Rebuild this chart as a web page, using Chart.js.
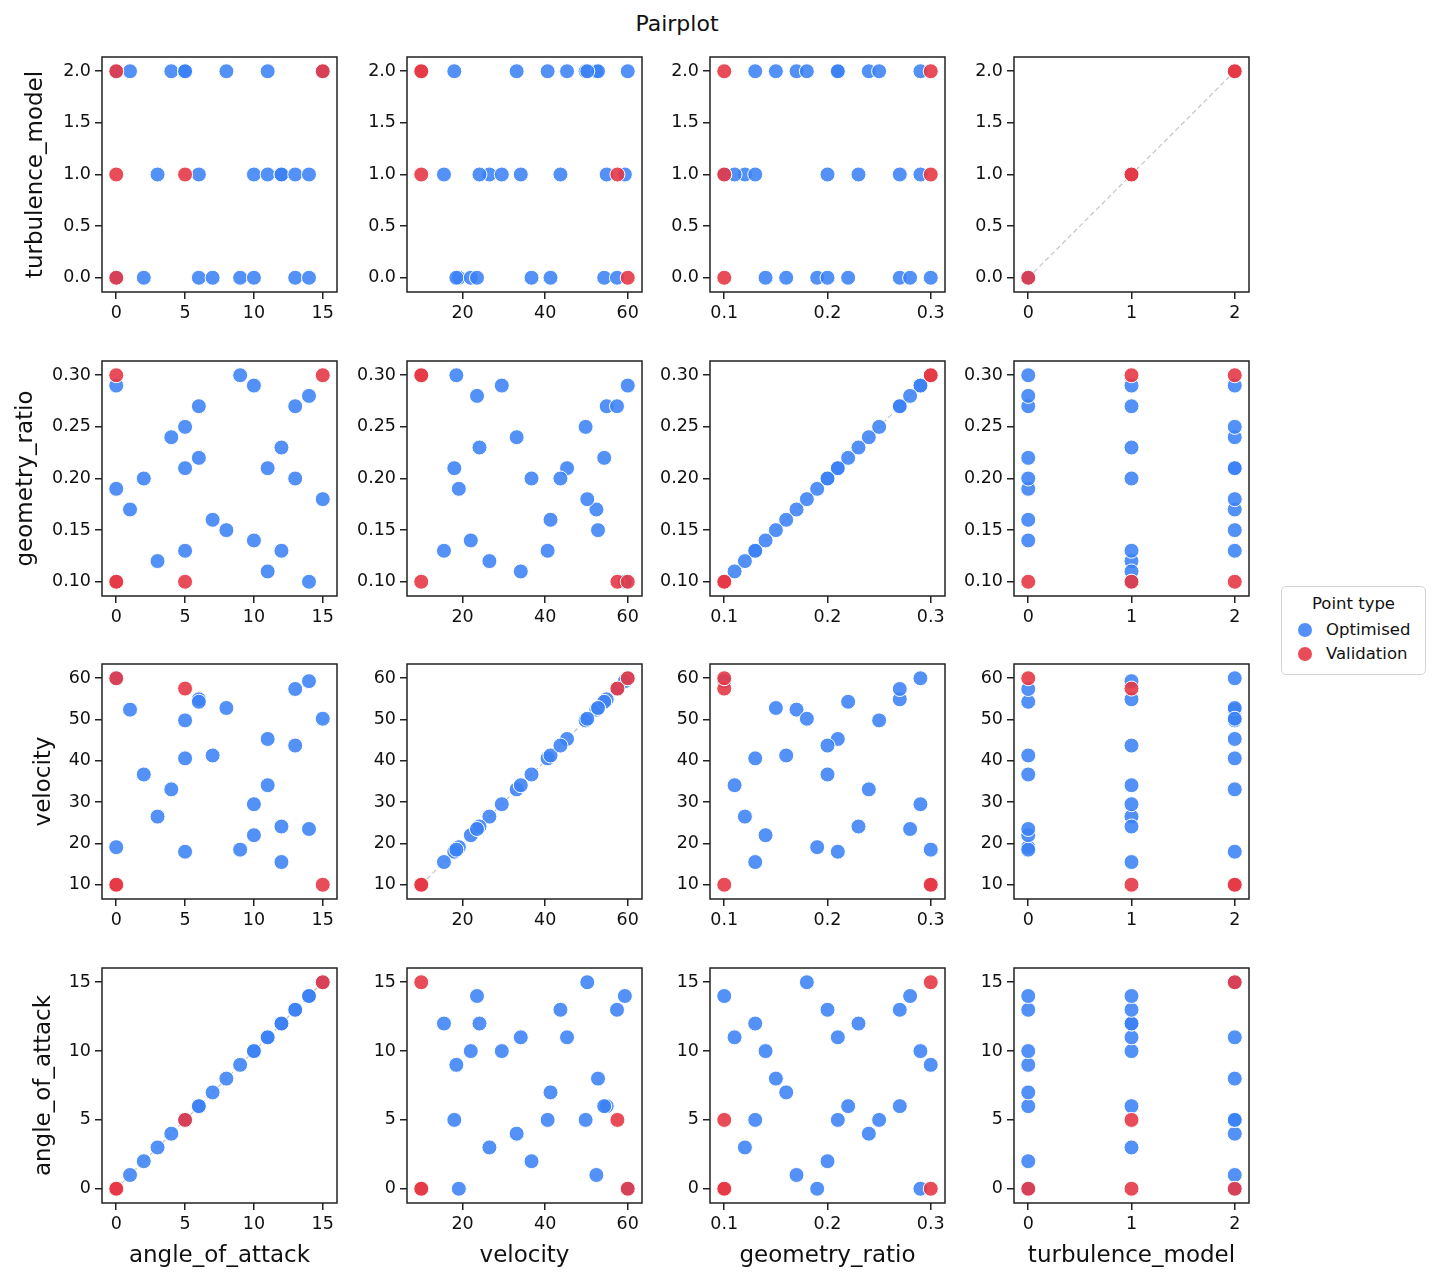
<!DOCTYPE html>
<html lang="en">
<head>
<meta charset="UTF-8">
<title>Pairplot</title>
<script src="https://cdn.jsdelivr.net/npm/chart.js@4.4.0/dist/chart.umd.min.js"></script>
<style>
  body { margin: 0; background: #fff; width: 1440px; height: 1284px; position: relative; overflow: hidden; font-family: 'DejaVu Sans', sans-serif; color: #111; }
  .panel { position: absolute; }
  #title { position: absolute; left: 0; top: 11px; width: 1354px; text-align: center; font-size: 22px; }
  .legend { position: absolute; left: 1281px; top: 586px; width: 145px; height: 89px; box-sizing: border-box;
            border: 1.5px solid #d4d4d4; border-radius: 5px; font-size: 16.5px; background: #fff; }
  .legend .ttl { position: absolute; left: 0; right: 0; top: 7px; text-align: center; }
  .legend .item { position: absolute; left: 16px; height: 20px; line-height: 20px; white-space: nowrap; }
  .legend .dot { display: inline-block; width: 14px; height: 14px; border-radius: 50%; vertical-align: -2px; margin-right: 14px; }
</style>
</head>
<body>
<div id="title">Pairplot</div>
<div class="legend">
  <div class="ttl">Point type</div>
  <div class="item" style="top:33px"><span class="dot" style="background:rgba(59,130,246,0.88)"></span>Optimised</div>
  <div class="item" style="top:57px"><span class="dot" style="background:rgba(230,57,70,0.9)"></span>Validation</div>
</div>

<script>
const varNames = ['angle_of_attack', 'velocity', 'geometry_ratio', 'turbulence_model'];

// optimised points (one entry per design)
const optAngle = [0, 0, 1, 2, 3, 4, 5, 5, 5, 6, 6, 7, 8, 9, 10, 10, 11, 11, 12, 12, 13, 13, 14, 14, 15];
const optVelocity = [60.0, 19.1, 52.4, 36.7, 26.5, 33.1, 49.8, 40.6, 18.0, 54.9, 54.3, 41.3, 52.8, 18.5, 29.5, 22.0, 45.3, 34.1, 24.1, 15.5, 57.4, 43.7, 59.3, 23.5, 50.2];
const optGeometry = [0.29, 0.19, 0.17, 0.20, 0.12, 0.24, 0.25, 0.13, 0.21, 0.27, 0.22, 0.16, 0.15, 0.30, 0.29, 0.14, 0.21, 0.11, 0.23, 0.13, 0.27, 0.20, 0.10, 0.28, 0.18];
const optTurbulence = [2, 0, 2, 0, 1, 2, 2, 2, 2, 1, 0, 0, 2, 0, 1, 0, 2, 1, 1, 1, 0, 1, 1, 0, 2];

// validation points
const valAngle = [5, 0, 15, 0, 0];
const valVelocity = [57.5, 60, 10, 10, 10];
const valGeometry = [0.10, 0.10, 0.30, 0.30, 0.10];
const valTurbulence = [1, 0, 2, 1, 2];

// tick labels
const angleTicks = [0, 5, 10, 15];
const velocityTicksX = [20, 40, 60];
const velocityTicksY = [10, 20, 30, 40, 50, 60];
const geometryTicksX = [0.1, 0.2, 0.3];
const geometryTicksY = [0.10, 0.15, 0.20, 0.25, 0.30];
const turbulenceTicksX = [0, 1, 2];
const turbulenceTicksY = [0.0, 0.5, 1.0, 1.5, 2.0];

const optCols = [optAngle, optVelocity, optGeometry, optTurbulence];
const valCols = [valAngle, valVelocity, valGeometry, valTurbulence];
const xTicks = [angleTicks, velocityTicksX, geometryTicksX, turbulenceTicksX];
const yTicks = [angleTicks, velocityTicksY, geometryTicksY, turbulenceTicksY];
const xFmt = [v => String(v), v => String(v), v => v.toFixed(1), v => String(v)];
const yFmt = [v => String(v), v => String(v), v => v.toFixed(2), v => v.toFixed(1)];

// rows from the top: turbulence, geometry, velocity, angle ; columns: angle, velocity, geometry, turbulence
const rowVars = [3, 2, 1, 0];
const colVars = [0, 1, 2, 3];

const FONT = "'DejaVu Sans', sans-serif";
const BLUE = 'rgba(59,130,246,0.88)';
const RED = 'rgba(230,57,70,0.9)';
const AX = 235;
const colLeft = [102, 407, 710, 1014];
const rowTop = [57, 361, 664, 968];
// y-title gap, depends on how wide the tick labels are (matplotlib style)
const yTitlePad = [22, 12, 30, 30];

function range(i) {
  const all = optCols[i].concat(valCols[i]);
  return [Math.min(...all), Math.max(...all)];
}
function limits(i) {
  const [lo, hi] = range(i);
  const pad = (hi - lo) * 0.069;
  return [lo - pad, hi + pad];
}

const boxPlugin = {
  id: 'box',
  afterDraw(chart) {
    const { ctx, chartArea: a } = chart;
    ctx.save();
    ctx.strokeStyle = '#222';
    ctx.lineWidth = 1.5;
    ctx.strokeRect(a.left, a.top, a.right - a.left, a.bottom - a.top);
    ctx.restore();
  }
};

function axis(vi, horizontal, size, showTitle, titlePad) {
  const lim = limits(vi);
  const ticks = horizontal ? xTicks[vi] : yTicks[vi];
  const fmt = horizontal ? xFmt[vi] : yFmt[vi];
  return {
    type: 'linear',
    min: lim[0],
    max: lim[1],
    afterBuildTicks: s => { s.ticks = ticks.map(v => ({ value: v })); },
    afterFit: s => {
      if (horizontal) { s.height = size; s.paddingLeft = 0; s.paddingRight = 0; }
      else { s.width = size; s.paddingTop = 0; s.paddingBottom = 0; }
    },
    grid: { display: true, drawOnChartArea: false, drawTicks: true, tickLength: 7, lineWidth: 1.5, color: '#222' },
    border: { display: false },
    ticks: { color: '#111', font: { family: FONT, size: 17.5 }, padding: 4, maxRotation: 0, autoSkip: false, callback: v => fmt(v) },
    title: {
      display: showTitle, text: varNames[vi], color: '#111',
      font: { family: FONT, size: 23 },
      padding: horizontal ? { top: 0, bottom: 3 } : { top: titlePad, bottom: 0 }
    }
  };
}

function pts(xs, ys) {
  return xs.map((x, i) => ({ x: x, y: ys[i] }));
}

function makePanel(r, c) {
  const xv = colVars[c], yv = rowVars[r];
  const yw = c === 0 ? 102 : 70;
  const xh = r === 3 ? 70 : 40;
  const w = yw + AX + 3, h = 2 + AX + xh;
  const div = document.createElement('div');
  div.className = 'panel';
  div.style.left = (colLeft[c] - yw) + 'px';
  div.style.top = (rowTop[r] - 2) + 'px';
  const cv = document.createElement('canvas');
  cv.width = w; cv.height = h;
  cv.style.width = w + 'px'; cv.style.height = h + 'px';
  div.appendChild(cv);
  document.body.appendChild(div);

  const datasets = [
    { label: 'Validation', data: pts(valCols[xv], valCols[yv]), backgroundColor: RED, borderColor: '#fff', borderWidth: 1, pointRadius: 7.5, order: 0 },
    { label: 'Optimised', data: pts(optCols[xv], optCols[yv]), backgroundColor: BLUE, borderColor: '#fff', borderWidth: 1, pointRadius: 7.5, order: 1 }
  ];
  if (xv === yv) {
    const [lo, hi] = range(xv);
    datasets.push({ type: 'line', label: 'diag', data: [{ x: lo, y: lo }, { x: hi, y: hi }],
      borderColor: '#c4c4c4', borderWidth: 1.2, borderDash: [5, 3], pointRadius: 0, fill: false, order: 2 });
  }

  new Chart(cv, {
    type: 'scatter',
    data: { datasets },
    options: {
      responsive: false,
      animation: false,
      layout: { autoPadding: false, padding: { top: 2, right: 3, left: 0, bottom: 0 } },
      plugins: { legend: { display: false }, tooltip: { enabled: false } },
      scales: {
        x: axis(xv, true, xh, r === 3, 0),
        y: axis(yv, false, yw, c === 0, yTitlePad[r])
      }
    },
    plugins: [boxPlugin]
  });
}

for (let r = 0; r < 4; r++) {
  for (let c = 0; c < 4; c++) makePanel(r, c);
}
</script>
</body>
</html>
